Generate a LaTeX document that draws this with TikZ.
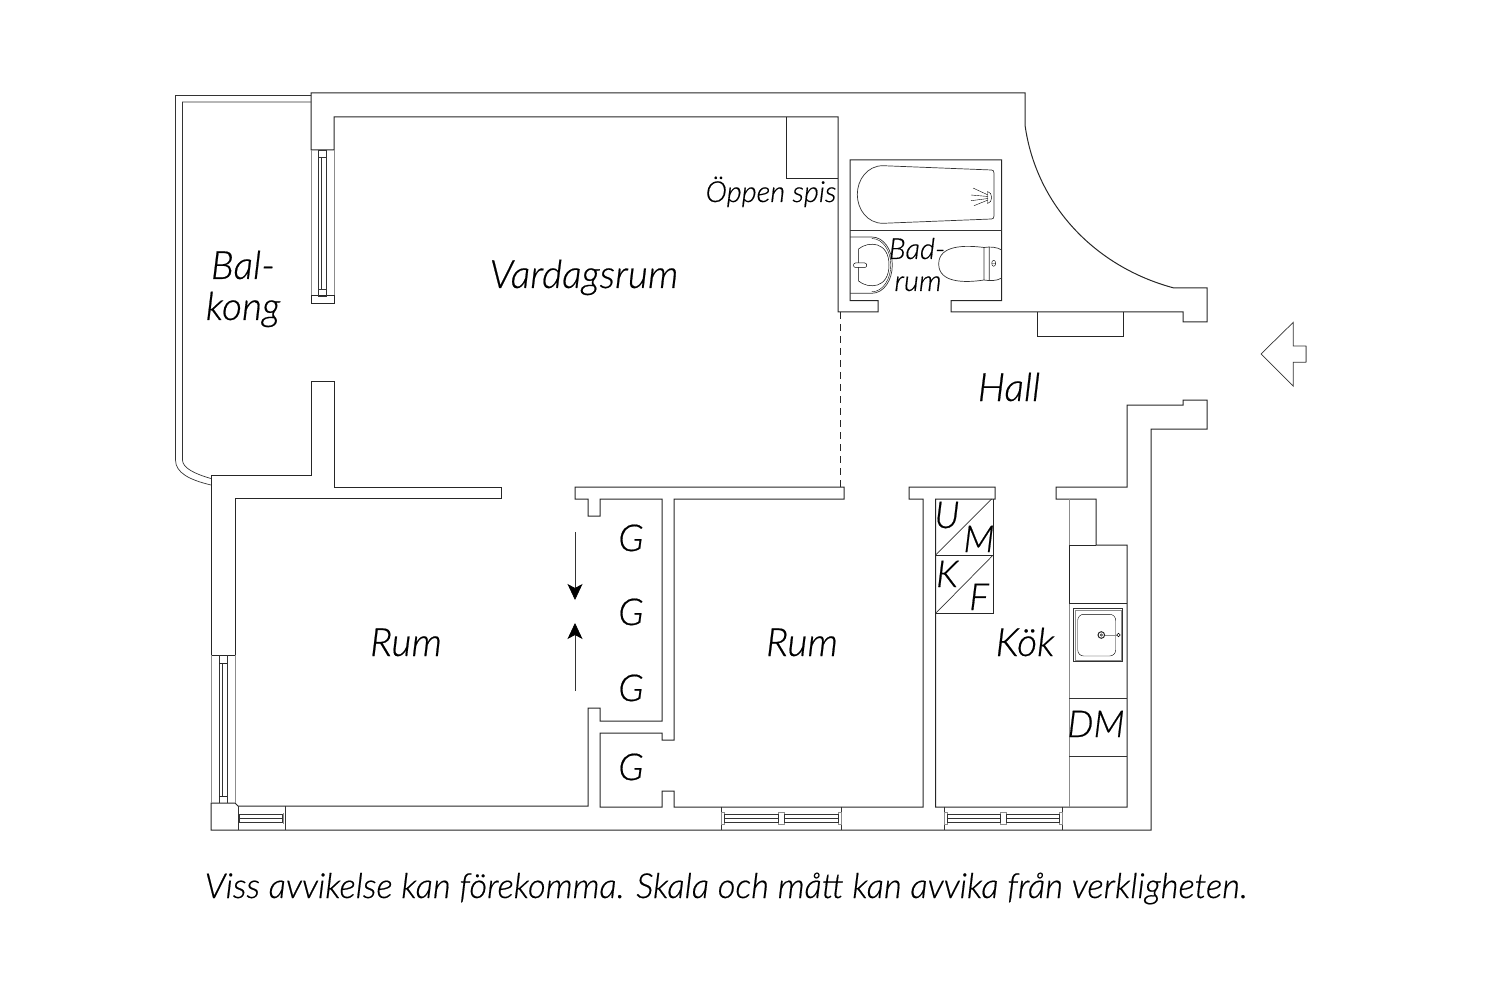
\documentclass[tikz,border=0pt]{standalone}
\usepackage{fontspec}
\setmainfont{Lato Light}[ItalicFont={Lato Light Italic},ItalicFeatures={FakeBold=0.5}]
\usetikzlibrary{arrows.meta}
\tikzset{
  wall/.style={line width=1pt,color=black!85},
  thin line/.style={line width=0.7pt,color=black!80},
  gray line/.style={line width=1pt,color=black!45},
  room/.style={font=\itshape\fontsize{39}{39}\selectfont,inner sep=0pt,anchor=base},
  letter/.style={font=\itshape\fontsize{37}{37}\selectfont,inner sep=0pt,anchor=base},
  small room/.style={font=\itshape\fontsize{29}{29}\selectfont,inner sep=0pt,anchor=base},
  note/.style={font=\itshape\fontsize{34.5}{34.5}\selectfont,inner sep=0pt,anchor=base},
  door tip/.style={-{Stealth[length=16pt,width=15pt,inset=4pt,color=black]}}
}
\begin{document}
\begin{tikzpicture}[x=1pt,y=-1pt]
\useasboundingbox (0,0) rectangle (1500,1000);

%walls
\draw[wall] (311,93)--(1025,93)--(1025,125)
	.. controls (1036,205) and (1095,267) .. (1174,288)
	--(1207,288)--(1207,322)--(1183,322)--(1183,312)--(951,312)--(951,300.7)
	--(1001.7,300.7)--(1001.7,160)--(850,160)--(850,300.7)--(878,300.7)--(878,312)
	--(838,312)--(838,117)--(334,117)--(334,150)--(311,150)--cycle;
\draw[wall] (311,382)--(334,382)--(334,487)--(501,487)--(501,498)--(235,498)--(235,655)
	--(211,655)--(211,475)--(311,475)--cycle;
\draw[wall] (211,803)--(235,803)--(238,806)--(588,806)--(588,708)--(600,708)--(600,721)
	--(662,721)--(662,499)--(600,499)--(600,516)--(588,516)--(588,499)--(575,499)
	--(575,487)--(844,487)--(844,499)--(674,499)--(674,740)--(662,740)--(662,733)
	--(600,733)--(600,807)--(662,807)--(662,791)--(674,791)--(674,807)--(923,807)
	--(923,499)--(909,499)--(909,487)--(995,487)--(995,499)--(935.5,499)--(935.5,807)
	--(1127,807)--(1127,545)--(1096,545)--(1096,499)--(1056,499)--(1056,487)--(1127,487)
	--(1127,405)--(1183,405)--(1183,400)--(1207,400)--(1207,429)--(1151,429)--(1151,830)
	--(211,830)--cycle;
% fireplace and shelf
\draw[wall] (786,117)--(786,179)--(838,179);
\draw[wall] (1037,312)--(1037,337)--(1123,337)--(1123,312);
\draw[wall,dash pattern=on 7pt off 5pt] (840,312)--(840,487);

% balcony
\draw[thin line] (311,95.5)--(175.5,95.5)--(175.5,460) .. controls (175.5,473) and (190,480) .. (211,485);
\draw[thin line] (311,102)--(182.5,102)--(182.5,460) .. controls (182.5,468) and (195,474) .. (211,478.5);

% window top left
\draw[gray line] (311,150)--(311,296) (334,150)--(334,296);
\draw[wall] (311,296) rectangle (334,304);
\draw[thin line] (318.5,150) rectangle (326,157) (318.5,289) rectangle (326,296);
\draw[thin line] (318.5,157)--(318.5,289) (321.5,157)--(321.5,289) (326,157)--(326,289);

% window left
\draw[gray line] (211,655)--(211,803) (235,655)--(235,803);
\draw[thin line] (219,655)--(219,803) (227,655)--(227,803) (222.5,663)--(222.5,796);
\draw[wall] (219,663)--(227,663) (219,796)--(227,796);

% windows bottom
\draw[thin line] (238,806)--(238,830) (285,806)--(285,830);
\draw[thin line] (239.5,814.5) rectangle (282.5,822) (239.5,818.5)--(282.5,818.5);
\draw[gray line] (283.5,813)--(283.5,824);
\foreach \xa/\xb/\xc/\xd/\xe/\xf in {721.7/724.7/778.7/784/838.3/841.3,944.7/947.3/1000.7/1006/1059.3/1062.3}{
	\draw[thin line] (\xa,806.7)--(\xa,830) (\xf,806.7)--(\xf,830);
	\draw[gray line,line width=0.6pt] (\xa,812.5) rectangle (\xb,824) (\xc,812.5) rectangle (\xd,824) (\xe,812.5) rectangle (\xf,824);
	\draw[thin line] (\xb,814.3) rectangle (\xc,822.3) (\xb,818.3)--(\xc,818.3);
	\draw[thin line] (\xd,814.3) rectangle (\xe,822.3) (\xd,818.3)--(\xe,818.3);
}

% bath
\draw[thin line] (850,230)--(1001.7,230);
\draw[thin line] (883,165.7)--(991.5,170) .. controls (993,170) and (994,171) .. (994,173)
	--(994,216) .. controls (994,218) and (993,219) .. (991.5,219)--(883,223.3)
	.. controls (867,223.3) and (857.3,209) .. (857.3,194.5)
	.. controls (857.3,180) and (867,165.7) .. (883,165.7);
\draw[line width=0.4pt] (987.5,191.5) .. controls (993,192) and (993,203) .. (987.5,203.5)--cycle;
\draw[line width=0.4pt] (988,195)--(973,188) (988,196.5)--(971,195) (988,198.5)--(971,200.7) (988,200)--(974,205.7);

% sink and toilet
\draw[thin line] (850,237)--(871.7,237) .. controls (884,237) and (892.3,250) .. (892.3,265)
	.. controls (892.3,280) and (884,293.3) .. (871.7,293.3)--(850,293.3);
\draw[line width=0.4pt] (871.7,238.5) .. controls (883,238.5) and (890.8,251) .. (890.8,265)
	.. controls (890.8,279) and (883,291.8) .. (871.7,291.8);
\draw[line width=0.5pt] (858.5,281) .. controls (868,289) and (889,289) .. (889,265)
	.. controls (889,241) and (868,241) .. (858.5,249)--cycle;
\draw[fill=white,line width=0.5pt,rounded corners=2pt] (853.5,263) rectangle (866.7,267.5);
\draw[thin line] (984,247.5) .. controls (965,245) and (938.7,245) .. (938.7,264)
	.. controls (938.7,283) and (965,283) .. (984,280)--cycle;
\draw[thin line] (984,247.5) .. controls (990,246.5) and (997,247) .. (1001.7,250)
	(984,280) .. controls (990,281) and (997,281) .. (1001.7,278) (989.3,247)--(989.3,280.5);
\draw[line width=0.4pt] (993.7,263.3) ellipse (2 and 3) (991.7,263.3)--(995.7,263.3);

% kitchen
\draw[gray line] (1069,499)--(1069,807);
\draw[wall] (1069,545)--(1096,545) (1069,603)--(1127,603) (1069,545)--(1069,603);
\draw[thin line] (1069,698)--(1127,698) (1069,756)--(1127,756);
\draw[thin line] (1073.3,608.3) rectangle (1122.7,661.7);
\draw[gray line,line width=0.6pt] (1074.8,609.8) rectangle (1121.2,660.2);
\draw[line width=0.4pt,rounded corners=6pt] (1077.7,614.3) rectangle (1115.7,656);
\draw[gray line] (1101.3,635)--(1117,635);
\draw[wall,fill=white] (1101.3,635) circle (3.3);
\draw[line width=0.5pt] (1101.3,635) circle (1.2);
\draw[line width=0.5pt,fill=white] (1118.5,635) circle (1.8);

% wardrobes
\draw[wall] (935.7,499)--(935.7,613.3)--(993.7,613.3)--(993.7,499) (935.7,555)--(993.7,555);
\draw[thin line] (935.7,555)--(991.5,499) (935.7,613.3)--(992.7,555.5);

% closet doors
\coordinate (doortop) at (575,532);
\coordinate (doortopend) at (575,600);
\coordinate (doorlow) at (575,691);
\coordinate (doorlowend) at (575,623);
\draw[door tip,thin line] (doortop)--(doortopend);
\draw[door tip,thin line] (doorlow)--(doorlowend);

% entrance arrow
\draw[thin line] (1261,354)--(1293.3,322.3)--(1293.3,346)--(1306,346)--(1306,362.3)--(1293.3,362.3)--(1293.3,386.3)--cycle;
\draw[gray line] (1306,346)--(1306,362.3);

% labels
\node[room] (balA) at (243,279) {Bal-};
\node[room] (balB) at (243,320) {kong};
\node[room] (vardagsrum) at (584,288) {Vardagsrum};
\node[small room] (spis) at (771,202) {Öppen spis};
\node[small room] (badA) at (917,259) {Bad-};
\node[small room] (badB) at (918,291) {rum};
\node[room] (hall) at (1009,401) {Hall};
\node[room] (rumA) at (406,656) {Rum};
\node[room] (rumB) at (802,656) {Rum};
\node[room] (kok) at (1025,656) {Kök};
\foreach \gy [count=\gi] in {551,625,701,780}
	\node[letter] (g\gi) at (631,\gy) {G};
\node[letter] (u) at (947,528) {U};
\node[letter] (m) at (979,552) {M};
\node[letter] (k) at (947,587) {K};
\node[letter] (f) at (979,610) {F};
\node[letter] (dm) at (1096,737) {DM};
\node[note] (foot) at (726,898) {Viss avvikelse kan förekomma. Skala och mått kan avvika från verkligheten.};

\end{tikzpicture}
\end{document}
